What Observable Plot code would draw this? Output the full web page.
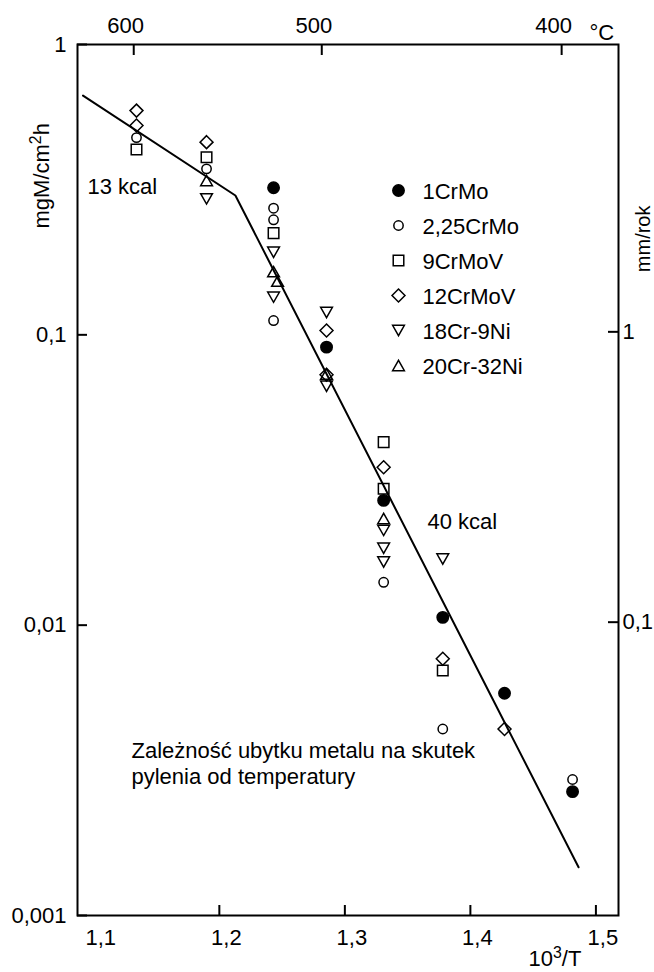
<!DOCTYPE html>
<html>
<head>
<meta charset="utf-8">
<script src="https://cdn.jsdelivr.net/npm/d3@7"></script>
<script src="https://cdn.jsdelivr.net/npm/@observablehq/plot@0.6"></script>
<style>
  html, body { margin: 0; padding: 0; background: #fff; }
  #chart svg { display: block; }
</style>
</head>
<body>
<div id="chart"></div>
<script>
// Alloy series (legend order)
const alloys = ["1CrMo", "2,25CrMo", "9CrMoV", "12CrMoV", "18Cr-9Ni", "20Cr-32Ni"];

// Measured sputtering loss, x = 10^3/T, y = mgM/cm²h
const cr1x   = [1.2432, 1.2854, 1.3309, 1.378, 1.4272, 1.4814];
const cr1y   = [0.321, 0.0907, 0.0269, 0.01064, 0.00583, 0.00267];
const cr225x = [1.134, 1.1898, 1.2432, 1.2432, 1.2432, 1.3309, 1.378, 1.4814];
const cr225y = [0.478, 0.373, 0.273, 0.249, 0.112, 0.01405, 0.00439, 0.00294];
const cr9x   = [1.134, 1.1898, 1.2432, 1.3309, 1.3309, 1.378];
const cr9y   = [0.435, 0.409, 0.224, 0.0427, 0.0295, 0.00698];
const cr12x  = [1.134, 1.134, 1.1898, 1.2854, 1.2854, 1.3309, 1.378, 1.4272];
const cr12y  = [0.592, 0.526, 0.461, 0.1035, 0.0729, 0.035, 0.00766, 0.00439];
const cr18x  = [1.1898, 1.2432, 1.2432, 1.2854, 1.2854, 1.3309, 1.3309, 1.3309, 1.378];
const cr18y  = [0.294, 0.1925, 0.1348, 0.1194, 0.0665, 0.0212, 0.0184, 0.0165, 0.0169];
const cr20x  = [1.1898, 1.2432, 1.2464, 1.2854, 1.3309];
const cr20y  = [0.340, 0.165, 0.153, 0.0733, 0.0233];

// Two-segment Arrhenius fit (13 kcal and 40 kcal)
const fitX = [1.0914, 1.2128, 1.4862];
const fitY = [0.667, 0.302, 0.001466];

// Axes
const xTicks = [1.1, 1.2, 1.3, 1.4, 1.5];
const yTicks = [1, 0.1, 0.01, 0.001];
const tempLabels = [600, 500, 400];
const tempTickX = [1.1318, 1.2816, 1.4727];
const mmTicks = [1, 0.1];
const mgPerMm = 0.1024;   // mgM/cm²h corresponding to 1 mm/rok

const series = [
  [alloys[0], cr1x, cr1y],
  [alloys[1], cr225x, cr225y],
  [alloys[2], cr9x, cr9y],
  [alloys[3], cr12x, cr12y],
  [alloys[4], cr18x, cr18y],
  [alloys[5], cr20x, cr20y]
];
const points = series.flatMap(([alloy, xs, ys]) => xs.map((x, i) => ({alloy, x, y: ys[i]})));
const fit = fitX.map((x, i) => ({x, y: fitY[i]}));

// Marker shapes
const unit = (size) => Math.sqrt(size / Math.PI);
const symDisc = {draw(c, size) { const s = unit(size) * 0.95; c.moveTo(s, 0); c.arc(0, 0, s, 0, 2 * Math.PI); }};
const symRing = {draw(c, size) { const s = unit(size) * 0.78; c.moveTo(s, 0); c.arc(0, 0, s, 0, 2 * Math.PI); }};
const symSquare = {draw(c, size) { const s = unit(size) * 0.88; c.moveTo(-s, -s); c.lineTo(s, -s); c.lineTo(s, s); c.lineTo(-s, s); c.closePath(); }};
const symDiamond = {draw(c, size) { const s = unit(size) * 1.08; c.moveTo(0, -s); c.lineTo(s, 0); c.lineTo(0, s); c.lineTo(-s, 0); c.closePath(); }};
const symTriDown = {draw(c, size) { const s = unit(size); const w = s * 0.98, h = s * 0.86; c.moveTo(-w, -h); c.lineTo(w, -h); c.lineTo(0, h); c.closePath(); }};
const symTriUp = {draw(c, size) { const s = unit(size); const w = s * 0.98, h = s * 0.86; c.moveTo(-w, h); c.lineTo(w, h); c.lineTo(0, -h); c.closePath(); }};
const symbols = [symDisc, symRing, symSquare, symDiamond, symTriDown, symTriUp];

const W = 654, H = 972;
const mL = 77, mR = 36, mT = 44, mB = 57;
const fw = W - mL - mR, fh = H - mT - mB;
const FS = 22;
const comma = (d) => String(d).replace(".", ",");
const txt = {fontSize: FS, fill: "black"};

const legendMarks = alloys.flatMap((a, i) => [
  Plot.dot([a], {frameAnchor: "top-left", dx: 321, dy: 146 + 35 * i, symbol: (d) => d, r: 6,
    stroke: "black", strokeWidth: 1.5, fill: i === 0 ? "black" : "none"}),
  Plot.text([a], {frameAnchor: "top-left", dx: 345, dy: 154 + 35 * i, text: (d) => d,
    textAnchor: "start", lineAnchor: "bottom", ...txt})
]);

const chart = Plot.plot({
  width: W,
  height: H,
  marginLeft: mL,
  marginRight: mR,
  marginTop: mT,
  marginBottom: mB,
  style: {fontFamily: "'Liberation Sans', Arial, Helvetica, sans-serif", background: "white", color: "black"},
  x: {domain: [1.087, 1.518], axis: null},
  y: {type: "log", domain: [0.001, 1], axis: null},
  symbol: {domain: alloys, range: symbols},
  marks: [
    Plot.frame({stroke: "black", strokeWidth: 2}),
    // ticks pointing into the frame
    Plot.tickX(xTicks.slice(1), {x: (d) => d, insetTop: fh - 10, stroke: "black", strokeWidth: 2}),
    Plot.tickX(tempTickX, {x: (d) => d, insetBottom: fh - 11, stroke: "black", strokeWidth: 2}),
    Plot.tickY(yTicks, {y: (d) => d, insetRight: fw - 10, stroke: "black", strokeWidth: 2}),
    Plot.tickY(mmTicks, {y: (d) => d * mgPerMm, insetLeft: fw - 10, stroke: "black", strokeWidth: 2}),
    // tick labels
    Plot.text(xTicks, {x: (d) => d, frameAnchor: "bottom", dy: 29, dx: 7, lineAnchor: "bottom", text: comma, ...txt}),
    Plot.text(tempLabels, {x: (d, i) => tempTickX[i], frameAnchor: "top", dy: -12, dx: -8, lineAnchor: "bottom", text: (d) => String(d), ...txt}),
    Plot.text(yTicks, {y: (d) => d, frameAnchor: "left", dx: -11, textAnchor: "end", lineAnchor: "middle", text: comma, ...txt}),
    Plot.text(mmTicks, {y: (d) => d * mgPerMm, frameAnchor: "right", dx: 4, textAnchor: "start", lineAnchor: "middle", text: comma, ...txt}),
    // axis titles
    Plot.text(["mgM/cm2h"], {frameAnchor: "top-left", dx: -44, dy: 184, rotate: -90, text: (d) => d, ...txt}),
    Plot.text(["mm/rok"], {frameAnchor: "top-right", dx: 17, dy: 161, rotate: -90, text: (d) => d, fontSize: 20, fill: "black"}),
    Plot.text(["°C"], {frameAnchor: "top-right", dx: -29, dy: -5, textAnchor: "start", lineAnchor: "bottom", text: (d) => d, ...txt}),
    Plot.text(["103/T"], {frameAnchor: "bottom-right", dx: -90, dy: 50, textAnchor: "start", lineAnchor: "bottom", text: (d) => d, ...txt}),
    // fitted lines and their annotations
    Plot.line(fit, {x: "x", y: "y", stroke: "black", strokeWidth: 2}),
    Plot.text(["13 kcal"], {frameAnchor: "top-left", dx: 10, dy: 149, textAnchor: "start", lineAnchor: "bottom", text: (d) => d, ...txt}),
    Plot.text(["40 kcal"], {frameAnchor: "top-left", dx: 350, dy: 484, textAnchor: "start", lineAnchor: "bottom", text: (d) => d, ...txt}),
    Plot.text(["Zależność ubytku metalu na skutek\npylenia od temperatury"], {frameAnchor: "top-left", dx: 54, dy: 739,
      textAnchor: "start", lineAnchor: "bottom", lineHeight: 1.18, text: (d) => d, ...txt}),
    // measurements
    Plot.dot(points.filter((d) => d.alloy !== alloys[0]), {x: "x", y: "y", symbol: "alloy", r: 6, stroke: "black", strokeWidth: 1.5, fill: "none"}),
    Plot.dot(points.filter((d) => d.alloy === alloys[0]), {x: "x", y: "y", symbol: "alloy", r: 6, stroke: "black", strokeWidth: 1.5, fill: "black"}),
    ...legendMarks
  ]
});

// Raise the exponents in the unit labels
function superscript(svg, full, base, sup, rest) {
  d3.select(svg).selectAll("text")
    .filter(function () { return this.textContent === full; })
    .each(function () {
      const t = d3.select(this).text(null);
      t.append("tspan").text(base);
      t.append("tspan").attr("dy", "-8").attr("font-size", "0.72em").text(sup);
      t.append("tspan").attr("dy", "8").text(rest);
    });
}
superscript(chart, "mgM/cm2h", "mgM/cm", "2", "h");
superscript(chart, "103/T", "10", "3", "/T");

document.getElementById("chart").appendChild(chart);
</script>
</body>
</html>
